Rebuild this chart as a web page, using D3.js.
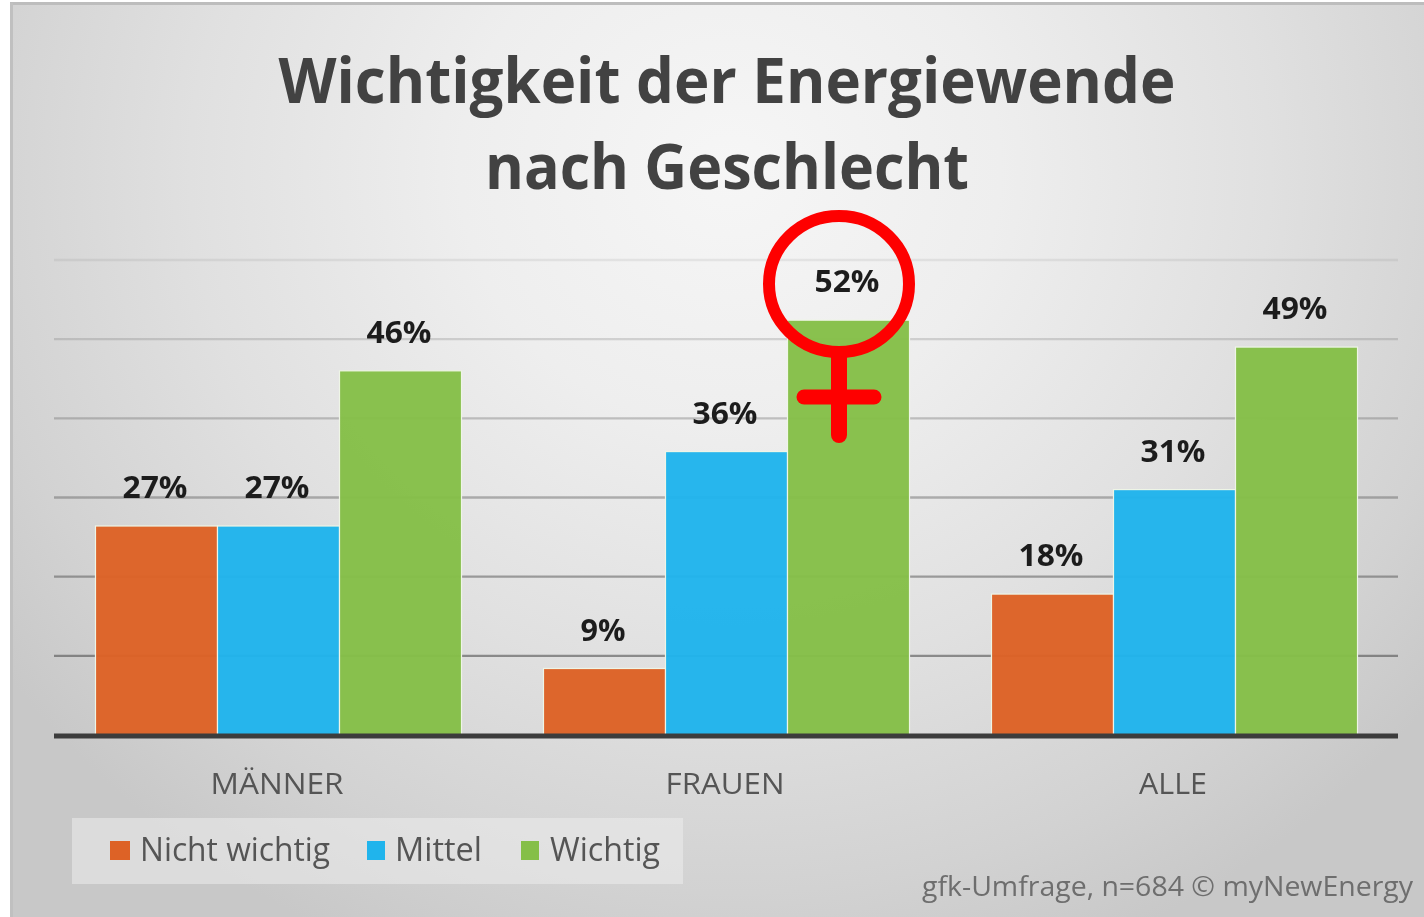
<!DOCTYPE html>
<html><head><meta charset="utf-8">
<script src="https://cdn.jsdelivr.net/npm/d3@7/dist/d3.min.js"></script>
<style>html,body{margin:0;padding:0;background:#fff}svg{display:block}text{font-family:"Open Sans","Noto Sans",sans-serif}</style>
</head><body><svg id="c" width="1424" height="917"></svg>
<script>
const categories=["MÄNNER","FRAUEN","ALLE"];
const seriesNames=["Nicht wichtig","Mittel","Wichtig"];
const nichtWichtig=[26.4,8.4,17.8];
const mittel=[26.4,35.8,31];
const wichtig=[46,52.4,49];
const nichtWichtigLabels=["27%","9%","18%"];
const mittelLabels=["27%","36%","31%"];
const wichtigLabels=["46%","52%","49%"];
const gridTicks=[10,20,30,40,50,60];
const titleLines=["Wichtigkeit der Energiewende","nach Geschlecht"];
const source="gfk-Umfrage, n=684 © myNewEnergy";
const colors=["#dd6226","#20b4ec","#85bf48"];

const series=[nichtWichtig,mittel,wichtig];
const labels=[nichtWichtigLabels,mittelLabels,wichtigLabels];
const svg=d3.select("#c"), defs=svg.append("defs");
const bg=defs.append("radialGradient").attr("id","bg").attr("gradientUnits","userSpaceOnUse")
 .attr("cx",0).attr("cy",0).attr("r",1)
 .attr("gradientTransform","translate(730 170) scale(900 850)");
[[0,"#f6f6f6"],[.3,"#eeeeee"],[.6,"#e0e0e0"],[.85,"#d2d2d2"],[1,"#c8c8c8"]].forEach(([o,c])=>bg.append("stop").attr("offset",o).attr("stop-color",c));
defs.append("filter").attr("id","soft").append("feGaussianBlur").attr("stdDeviation",0.45);

svg.append("rect").attr("x",10).attr("y",3).attr("width",1414).attr("height",914).attr("fill","url(#bg)");
svg.append("rect").attr("x",10).attr("y",2).attr("width",1414).attr("height",3).attr("fill","#bdbdbd");
svg.append("rect").attr("x",10).attr("y",3).attr("width",3).attr("height",914).attr("fill","#c0c0c0");

const x0=d3.scaleBand().domain(categories).range([54.5,1398.5]).paddingInner(0.183).paddingOuter(0.0915);
const x1=d3.scaleBand().domain(d3.range(3)).range([0,x0.bandwidth()]);
const y=d3.scaleLinear().domain([0,60]).range([735,260]);
const gridOpacity=d3.scaleLinear().domain([10,60]).range([0.62,0.1]);

svg.append("g").selectAll("line").data(gridTicks).join("line")
 .attr("x1",54).attr("x2",1398).attr("y1",d=>y(d)).attr("y2",d=>y(d))
 .attr("stroke","#555").attr("stroke-width",2.4).attr("stroke-opacity",d=>gridOpacity(d));

const texts=svg.append("g").attr("filter","url(#soft)");
const groups=svg.append("g").selectAll("g").data(categories).join("g")
 .attr("transform",d=>`translate(${x0(d)},0)`);
const labelW=t=>t.length<3?45:65;
groups.each(function(c,ci){
 const g=d3.select(this);
 g.selectAll("rect").data(series.map(s=>s[ci])).join("rect")
  .attr("x",(d,i)=>x1(i)).attr("width",x1.bandwidth()).attr("y",d=>y(d)).attr("height",d=>y(0)-y(d))
  .attr("fill",(d,i)=>colors[i]).attr("fill-opacity",.97).attr("stroke","#eef5e6").attr("stroke-width",1.2);
 texts.append("g").attr("transform",`translate(${x0(c)},0)`)
  .selectAll("text").data(series.map((s,i)=>({v:s[ci],t:labels[i][ci],i}))).join("text")
  .attr("x",d=>x1(d.i)+x1.bandwidth()/2-1.5).attr("y",d=>y(d.v)-28)
  .attr("text-anchor","middle").attr("font-size",30).attr("font-weight",700).attr("fill","#1e1e1e")
  .attr("textLength",d=>labelW(d.t)).attr("lengthAdjust","spacingAndGlyphs").text(d=>d.t);
});
texts.raise();

svg.append("line").attr("x1",54).attr("x2",1398).attr("y1",y(0)+1).attr("y2",y(0)+1).attr("stroke","#3c3c3c").attr("stroke-width",5);

const catW={"MÄNNER":133,"FRAUEN":119,"ALLE":68};
texts.append("g").selectAll("text").data(categories).join("text")
 .attr("x",d=>x0(d)+x0.bandwidth()/2-1.5).attr("y",794).attr("text-anchor","middle")
 .attr("font-size",30).attr("fill","#555").attr("textLength",d=>catW[d]).attr("lengthAdjust","spacingAndGlyphs").text(d=>d);

const titleW=[897,484],titleY=[103,189];
texts.append("g").selectAll("text").data(titleLines).join("text")
 .attr("x",727).attr("y",(d,i)=>titleY[i]).attr("text-anchor","middle")
 .attr("font-size",62).attr("font-weight",700).attr("fill","#424242")
 .attr("textLength",(d,i)=>titleW[i]).attr("lengthAdjust","spacingAndGlyphs").text(d=>d);

svg.append("rect").attr("x",72).attr("y",818).attr("width",611).attr("height",66).attr("fill","#ececec").attr("fill-opacity",.55);
const legX=[110,367,521],legW=[20,18,18],legTextX=[140,395,550],legTextW=[190,87,110];
const leg=svg.append("g").selectAll("g").data(seriesNames).join("g");
leg.append("rect").attr("x",(d,i)=>legX[i]).attr("y",841).attr("width",(d,i)=>legW[i]).attr("height",19).attr("fill",(d,i)=>colors[i]);
texts.raise();
texts.append("g").selectAll("text").data(seriesNames).join("text")
 .attr("x",(d,i)=>legTextX[i]).attr("y",861).attr("font-size",32).attr("fill","#555")
 .attr("textLength",(d,i)=>legTextW[i]).attr("lengthAdjust","spacingAndGlyphs").text(d=>d);

texts.append("text").attr("x",922).attr("y",896).attr("font-size",28).attr("fill","#6e6e6e")
 .attr("textLength",491).attr("lengthAdjust","spacingAndGlyphs").text(source);

const sym=svg.append("g").attr("fill","none").attr("stroke","#fe0000").attr("stroke-linecap","round");
sym.append("ellipse").attr("cx",839).attr("cy",284).attr("rx",70).attr("ry",68).attr("stroke-width",12);
sym.append("path").attr("d","M839 354V435").attr("stroke-width",16);
sym.append("path").attr("d","M804 397H874").attr("stroke-width",15);
</script></body></html>
